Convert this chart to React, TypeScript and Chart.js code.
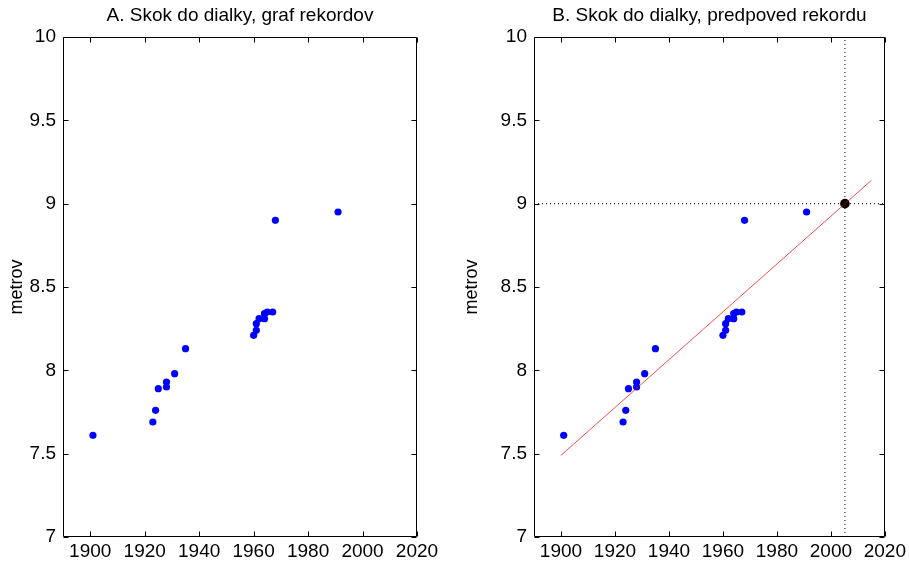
import React, { useEffect, useRef } from "react";
import { Chart, registerables } from "chart.js";

Chart.register(...registerables);

// World records in the long jump (year, metres)
const recordYears = [1901, 1923, 1924, 1925, 1928, 1928, 1931, 1935, 1960, 1961, 1961, 1962, 1964, 1964, 1965, 1967, 1968, 1991];
const recordValues = [7.61, 7.69, 7.76, 7.89, 7.90, 7.93, 7.98, 8.13, 8.21, 8.24, 8.28, 8.31, 8.31, 8.34, 8.35, 8.35, 8.90, 8.95];

// Linear trend line endpoints
const trendYears = [1900, 2015];
const trendValues = [7.49, 9.14];

// Predicted year in which the trend reaches 9 m
const predictedYear = 2005.2;
const predictedValue = 9.0;

const xTicks = [1900, 1920, 1940, 1960, 1980, 2000, 2020];
const yTicks = [7, 7.5, 8, 8.5, 9, 9.5, 10];
const xMin = 1890;
const xMax = 2020;
const yMin = 7;
const yMax = 10;

const FONT = "'Liberation Sans', Arial, sans-serif";
const FS = 19;

// Box around the plot area with inward tick marks on all four sides
const boxPlugin = {
  id: "matBox",
  afterDatasetsDraw(chart: any) {
    const { ctx, chartArea, scales } = chart;
    const l = Math.round(chartArea.left) + 0.5;
    const r = Math.round(chartArea.right) - 0.5;
    const t = Math.round(chartArea.top) + 0.5;
    const b = Math.round(chartArea.bottom) - 0.5;
    const len = 5;
    ctx.save();
    ctx.strokeStyle = "#000";
    ctx.lineWidth = 1;
    ctx.beginPath();
    ctx.rect(l, t, r - l, b - t);
    for (const v of xTicks) {
      const px = Math.round(scales.x.getPixelForValue(v)) + 0.5;
      ctx.moveTo(px, b);
      ctx.lineTo(px, b - len);
      ctx.moveTo(px, t);
      ctx.lineTo(px, t + len);
    }
    for (const v of yTicks) {
      const py = Math.round(scales.y.getPixelForValue(v)) + 0.5;
      ctx.moveTo(l, py);
      ctx.lineTo(l + len, py);
      ctx.moveTo(r, py);
      ctx.lineTo(r - len, py);
    }
    ctx.stroke();
    ctx.restore();
  },
};

function makeOptions(title: string, yAxisWidth: number, padRight: number) {
  return {
    responsive: false,
    animation: false as const,
    events: [],
    layout: { padding: { left: 0, right: padRight, top: 0, bottom: 0 } },
    plugins: {
      legend: { display: false },
      tooltip: { enabled: false },
      title: {
        display: true,
        text: title,
        fullSize: false,
        color: "#000",
        font: { family: FONT, size: FS, weight: "normal" as const },
        padding: { top: 4, bottom: 10.2 },
      },
    },
    scales: {
      x: {
        type: "linear" as const,
        min: xMin,
        max: xMax,
        grid: { display: false, drawTicks: false },
        border: { display: false },
        afterBuildTicks: (s: any) => {
          s.ticks = xTicks.map((v) => ({ value: v }));
        },
        afterFit: (s: any) => {
          s.height = 25;
        },
        ticks: {
          color: "#000",
          padding: 3,
          maxRotation: 0,
          autoSkip: false,
          font: { family: FONT, size: FS },
          callback: (v: any) => String(v),
        },
      },
      y: {
        type: "linear" as const,
        min: yMin,
        max: yMax,
        grid: { display: false, drawTicks: false },
        border: { display: false },
        afterBuildTicks: (s: any) => {
          s.ticks = yTicks.map((v) => ({ value: v }));
        },
        afterFit: (s: any) => {
          s.width = yAxisWidth;
        },
        title: {
          display: true,
          text: "metrov",
          color: "#000",
          font: { family: FONT, size: FS - 1 },
          padding: { top: 6, bottom: 0 },
        },
        ticks: {
          color: "#000",
          padding: 7,
          autoSkip: false,
          font: { family: FONT, size: FS },
          callback: (v: any) => String(v),
        },
      },
    },
  };
}

const recordPoints = () => recordYears.map((yr, i) => ({ x: yr, y: recordValues[i] }));

function ChartA() {
  const ref = useRef<HTMLCanvasElement>(null);
  useEffect(() => {
    const chart = new Chart(ref.current!, {
      type: "scatter",
      data: {
        datasets: [
          {
            data: recordPoints(),
            backgroundColor: "#0000ff",
            borderWidth: 0,
            pointRadius: 3.6,
          },
        ],
      },
      options: makeOptions("A. Skok do dialky, graf rekordov", 63, 38) as any,
      plugins: [boxPlugin],
    });
    return () => chart.destroy();
  }, []);
  return <canvas ref={ref} width={455} height={562} style={{ position: "absolute", left: 0, top: 0 }} />;
}

function ChartB() {
  const ref = useRef<HTMLCanvasElement>(null);
  useEffect(() => {
    const chart = new Chart(ref.current!, {
      type: "scatter",
      data: {
        datasets: [
          {
            // horizontal guide at the target length
            type: "line",
            data: [
              { x: xMin, y: predictedValue },
              { x: xMax, y: predictedValue },
            ],
            borderColor: "#000",
            borderWidth: 1,
            borderDash: [1, 3],
            pointRadius: 0,
            showLine: true,
          } as any,
          {
            // vertical guide at the predicted year
            type: "line",
            data: [
              { x: predictedYear, y: yMin },
              { x: predictedYear, y: yMax },
            ],
            borderColor: "#000",
            borderWidth: 1,
            borderDash: [1, 3],
            pointRadius: 0,
            showLine: true,
          } as any,
          {
            type: "line",
            data: trendYears.map((yr, i) => ({ x: yr, y: trendValues[i] })),
            borderColor: "rgba(255,0,0,0.7)",
            borderWidth: 1,
            pointRadius: 0,
            showLine: true,
          } as any,
          {
            data: recordPoints(),
            backgroundColor: "#0000ff",
            borderWidth: 0,
            pointRadius: 3.6,
          },
          {
            data: [{ x: predictedYear, y: predictedValue }],
            backgroundColor: "#000",
            borderWidth: 0,
            pointRadius: 4.8,
          },
        ],
      },
      options: makeOptions("B. Skok do dialky, predpoved rekordu", 79, 23) as any,
      plugins: [boxPlugin],
    });
    return () => chart.destroy();
  }, []);
  return <canvas ref={ref} width={454} height={562} style={{ position: "absolute", left: 455, top: 0 }} />;
}

export default function App() {
  return (
    <div style={{ position: "absolute", left: 0, top: 0, width: 909, height: 562, background: "#fff", overflow: "hidden" }}>
      <ChartA />
      <ChartB />
    </div>
  );
}
